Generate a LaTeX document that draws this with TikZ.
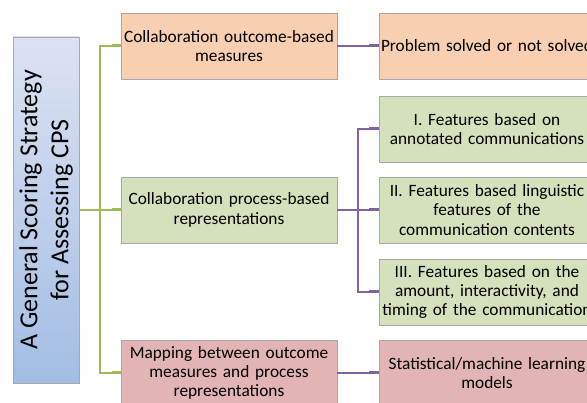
\documentclass[tikz,border=0pt]{standalone}
\usepackage{fontspec}
\setmainfont{Carlito}
\usetikzlibrary{arrows.meta,shadows}
\definecolor{peach}{HTML}{F8CFB0}
\definecolor{sage}{HTML}{D5E0BC}
\definecolor{rose}{HTML}{E2B4B4}
\definecolor{bluetop}{HTML}{DCE2F2}
\definecolor{bluebot}{HTML}{A2BDE4}
\definecolor{gline}{HTML}{9BBB59}
\definecolor{pline}{HTML}{8064A2}
\definecolor{edge}{HTML}{A8A8A8}
\tikzset{
  box/.style={draw=edge, line width=0.8pt, minimum width=216pt, minimum height=66pt,
    text width=214pt, align=center, font=\fontsize{17.3}{19.3}\selectfont, inner sep=0pt,
    drop shadow={shadow xshift=1.2pt, shadow yshift=-1.5pt, opacity=0.35}},
  gconn/.style={draw=gline, line width=1.2pt, -{Rectangle[length=9pt,width=3pt]}},
  pconn/.style={draw=pline, line width=1.4pt, -{Rectangle[length=10pt,width=3pt]}},
  gplain/.style={draw=gline, line width=1.2pt},
  pplain/.style={draw=pline, line width=1.4pt},
}
\begin{document}
\begin{tikzpicture}[x=1pt,y=-1pt]
\useasboundingbox (0,0) rectangle (587,403);
\clip (0,0) rectangle (587,403);
\fill[white] (0,0) rectangle (587,403);
% root
\node[draw=edge, line width=0.8pt, minimum width=66pt, minimum height=346pt, inner sep=0pt,
  top color=bluetop, bottom color=bluebot,
  drop shadow={shadow xshift=1.2pt, shadow yshift=-1.5pt, opacity=0.35}] (root) at (46,210) {};
\node[rotate=90, align=center, font=\fontsize{26}{31}\selectfont] (roottxt) at (root.center) {A General Scoring Strategy\\for Assessing CPS};
% level 1
\node[box, fill=peach] (o1) at (229,46) {Collaboration outcome-based\\measures};
\node[box, fill=sage] (p1) at (229,210) {Collaboration process-based\\representations};
\node[box, fill=rose] (m1) at (229,373) {Mapping between outcome\\measures and process\\representations};
% level 2
\node[box, fill=peach] (o2) at (487,46) {Problem solved or not solved};
\node[box, fill=sage] (f1) at (487,129) {I. Features based on\\annotated communications};
\node[box, fill=sage] (f2) at (487,210) {II. Features based linguistic\\features of the\\communication contents};
\node[box, fill=sage] (f3) at (487,292) {III. Features based on the\\amount, interactivity, and\\timing of the communication};
\node[box, fill=rose] (s2) at (487,373) {Statistical/machine learning\\models};
% green connectors
\coordinate (jg) at (100,210);
\draw[gplain] (root.east) -- (jg);
\draw[gconn] (jg) |- (o1.west);
\draw[gconn] (jg) -- (p1.west);
\draw[gconn] (jg) |- (m1.west);
% purple connectors
\coordinate (jp) at (358,210);
\draw[pconn] (o1.east) -- (o2.west);
\draw[pplain] (p1.east) -- (jp);
\draw[pconn] (jp) |- (f1.west);
\draw[pconn] (jp) -- (f2.west);
\draw[pconn] (jp) |- (f3.west);
\draw[pconn] (m1.east) -- (s2.west);
\end{tikzpicture}
\end{document}
